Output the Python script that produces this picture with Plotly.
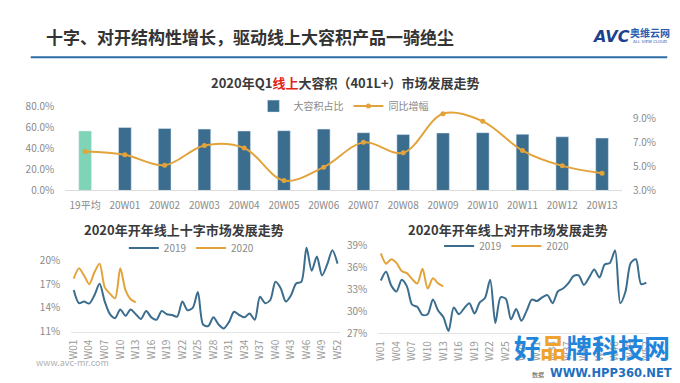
import plotly.graph_objects as go

# ---------------- data ----------------
top_categories = ["19平均", "20W01", "20W02", "20W03", "20W04", "20W05", "20W06",
                  "20W07", "20W08", "20W09", "20W10", "20W11", "20W12", "20W13"]
share_large = [56.4, 59.7, 58.8, 58.2, 56.4, 56.7, 58.2, 54.8, 53.0, 54.5, 54.8, 53.3, 50.9, 49.7]
yoy_growth = [6.23, 5.96, 5.09, 6.73, 6.52, 3.82, 4.93, 6.99, 6.12, 9.37, 8.74, 6.31, 5.04, 4.43]

left_ticks = [0, 20, 40, 60, 80]
right_ticks = [3, 5, 7, 9]

weeks = ["W%02d" % i for i in range(1, 53)]
week_ticks = weeks[::3]

cross_2019 = [16.25, 14.6, 14.8, 14.55, 15.6, 17.05, 14.8, 13.2, 12.7, 13.8,
              13.0, 13.8, 13.2, 12.6, 13.6, 12.8, 12.5, 13.6, 13.2, 13.1,
              12.9, 14.8, 13.7, 14.0, 16.0, 11.9, 11.7, 12.8, 11.9, 11.4,
              12.2, 13.5, 13.1, 12.8, 13.3, 12.5, 15.4, 14.6, 15.0, 17.3,
              16.5, 14.8, 15.6, 17.1, 17.3, 21.6, 18.7, 20.5, 18.1, 19.5,
              21.3, 19.6]
cross_2020 = [17.7, 19.0, 18.1, 17.0, 18.5, 19.6, 16.6, 15.8, 15.2, 19.0, 16.25, 15.1, 14.7]
cross_ticks = [11, 14, 17, 20]

fd_2019 = [34.2, 35.4, 33.5, 32.7, 34.3, 33.4, 30.9, 30.6, 29.5, 29.6,
           31.6, 30.1, 29.2, 27.3, 30.5, 29.6, 30.4, 31.1, 29.7, 31.2,
           31.8, 34.3, 28.4, 31.9, 31.7, 28.9, 30.3, 28.7, 30.05, 31.6,
           31.4, 31.9, 32.2, 31.1, 32.7, 33.1, 33.8, 34.8, 34.9, 33.6,
           34.6, 35.7, 34.6, 36.4, 36.6, 38.3, 31.1, 32.7, 36.6, 37.1,
           33.7, 33.9]
fd_2020 = [37.9, 36.5, 37.1, 36.6, 35.5, 35.2, 34.4, 33.8, 35.8, 33.1, 34.5, 33.8, 33.4]
fd_ticks = [27, 30, 33, 36, 39]

# ---------------- style ----------------
W, H = 680, 383
FONT = "Noto Sans CJK SC, Microsoft YaHei, sans-serif"
BLUE = "#3b6d8e"
MINT = "#7fd3b7"
ORANGE = "#e3a33b"
GRAY = "#8a8a8a"


def px(x):
    return x / W


def py(y):
    return 1 - y / H


fig = go.Figure()

# top chart
fig.add_trace(go.Bar(x=top_categories[:1], y=share_large[:1], marker_color=MINT,
                     width=0.32, showlegend=False, xaxis="x", yaxis="y",
                     hoverinfo="skip"))
fig.add_trace(go.Bar(x=top_categories[1:], y=share_large[1:], marker_color=BLUE,
                     width=0.32, name="大容积占比", xaxis="x", yaxis="y", legend="legend"))
fig.add_trace(go.Scatter(x=top_categories, y=yoy_growth, mode="lines+markers",
                         line=dict(color=ORANGE, width=2, shape="spline", smoothing=1.0),
                         marker=dict(size=5, color=ORANGE), name="同比增幅",
                         xaxis="x", yaxis="y2", legend="legend"))

# bottom left
fig.add_trace(go.Scatter(x=weeks, y=cross_2019, mode="lines", name="2019",
                         line=dict(color=BLUE, width=2, shape="spline", smoothing=0.8),
                         xaxis="x3", yaxis="y3", legend="legend2"))
fig.add_trace(go.Scatter(x=weeks[:len(cross_2020)], y=cross_2020, mode="lines", name="2020",
                         line=dict(color=ORANGE, width=2, shape="spline", smoothing=0.8),
                         xaxis="x3", yaxis="y3", legend="legend2"))

# bottom right
fig.add_trace(go.Scatter(x=weeks, y=fd_2019, mode="lines", name="2019",
                         line=dict(color=BLUE, width=2, shape="spline", smoothing=0.8),
                         xaxis="x4", yaxis="y4", legend="legend3"))
fig.add_trace(go.Scatter(x=weeks[:len(fd_2020)], y=fd_2020, mode="lines", name="2020",
                         line=dict(color=ORANGE, width=2, shape="spline", smoothing=0.8),
                         xaxis="x4", yaxis="y4", legend="legend3"))

tickfont = dict(family=FONT, size=10, color=GRAY)
xtickfont = dict(family=FONT, size=10, color="#9a9a9a")

fig.update_layout(
    width=W, height=H,
    margin=dict(l=0, r=0, t=0, b=0),
    paper_bgcolor="white", plot_bgcolor="rgba(0,0,0,0)",
    barmode="overlay",
    font=dict(family=FONT, color=GRAY, size=10),
    xaxis=dict(domain=[px(52), px(617)], anchor="y", type="category",
               range=[-0.5, 13.5], showgrid=False, showline=True, linecolor="#dcdcdc",
               ticks="outside", ticklen=6, tickcolor="rgba(0,0,0,0)", tickfont=tickfont),
    yaxis=dict(domain=[py(181), py(93)], anchor="x", range=[0, 80],
               tickvals=left_ticks, ticktext=["%.1f%%" % v for v in left_ticks],
               showgrid=False, zeroline=False, showline=False,
               ticks="outside", ticklen=8, tickcolor="rgba(0,0,0,0)", tickfont=tickfont),
    yaxis2=dict(overlaying="y", side="right", anchor="x", range=[3, 10],
                tickvals=right_ticks, ticktext=["%.1f%%" % v for v in right_ticks],
                showgrid=False, zeroline=False, showline=False,
                ticks="outside", ticklen=8, tickcolor="rgba(0,0,0,0)", tickfont=tickfont),
    xaxis3=dict(domain=[px(58), px(331)], anchor="y3", type="category",
                categoryorder="array", categoryarray=weeks,
                range=[-0.5, 51.5], tickvals=week_ticks, tickangle=-90,
                showgrid=False, showline=True, linecolor="#e4e4e4",
                ticks="outside", ticklen=3, tickcolor="rgba(0,0,0,0)", tickfont=xtickfont),
    yaxis3=dict(domain=[py(328.3), py(237.6)], anchor="x3", range=[11, 22],
                tickvals=cross_ticks, ticktext=["%d%%" % v for v in cross_ticks],
                showgrid=False, zeroline=False, showline=False,
                ticks="outside", ticklen=8, tickcolor="rgba(0,0,0,0)", tickfont=tickfont),
    xaxis4=dict(domain=[px(369.7), px(644.4)], anchor="y4", type="category",
                categoryorder="array", categoryarray=weeks,
                range=[-0.5, 51.5], tickvals=week_ticks, tickangle=-90,
                showgrid=False, showline=True, linecolor="#e4e4e4",
                ticks="outside", ticklen=3, tickcolor="rgba(0,0,0,0)", tickfont=xtickfont),
    yaxis4=dict(domain=[py(330), py(238.3)], anchor="x4", range=[27, 39],
                tickvals=fd_ticks, ticktext=["%d%%" % v for v in fd_ticks],
                showgrid=False, zeroline=False, showline=False,
                ticks="outside", ticklen=8, tickcolor="rgba(0,0,0,0)", tickfont=tickfont),
    legend=dict(orientation="h", x=px(243), y=py(93), xanchor="left", yanchor="middle",
                bgcolor="rgba(0,0,0,0)", font=dict(family=FONT, size=10, color=GRAY),
                itemwidth=30, tracegroupgap=0),
    legend2=dict(orientation="h", x=px(180), y=py(241), xanchor="center", yanchor="middle",
                 bgcolor="rgba(0,0,0,0)", font=dict(family=FONT, size=10, color=GRAY),
                 itemwidth=30),
    legend3=dict(orientation="h", x=px(500), y=py(239), xanchor="center", yanchor="middle",
                 bgcolor="rgba(0,0,0,0)", font=dict(family=FONT, size=10, color=GRAY),
                 itemwidth=30),
)

# ---------------- texts ----------------
ann = []
ann.append(dict(text="<b>十字、对开结构性增长，驱动线上大容积产品一骑绝尘</b>",
                x=px(30), y=py(20), xanchor="left", yanchor="middle",
                font=dict(family=FONT, size=17, color="#333333")))
ann.append(dict(text="<b>2020年Q1<span style='color:#e0241b'>线上</span>大容积（401L+）市场发展走势</b>",
                x=px(336), y=py(68), xanchor="center", yanchor="middle",
                font=dict(family=FONT, size=13, color="#3a3a3a")))
ann.append(dict(text="<b>2020年开年线上十字市场发展走势</b>",
                x=px(173), y=py(222), xanchor="center", yanchor="middle",
                font=dict(family=FONT, size=13, color="#3a3a3a")))
ann.append(dict(text="<b>2020年开年线上对开市场发展走势</b>",
                x=px(501), y=py(222), xanchor="center", yanchor="middle",
                font=dict(family=FONT, size=13, color="#3a3a3a")))
# logo
ann.append(dict(text="<b><i>AVC</i></b>", x=px(606), y=py(20), xanchor="center", yanchor="middle",
                font=dict(family="DejaVu Sans, sans-serif", size=16, color="#1d3f8c")))
ann.append(dict(text="<b>奥维云网</b>", x=px(645), y=py(16), xanchor="center", yanchor="middle",
                font=dict(family=FONT, size=10, color="#2a5db0")))
ann.append(dict(text="ALL VIEW CLOUD", x=px(645), y=py(26), xanchor="center", yanchor="middle",
                font=dict(family="DejaVu Sans, sans-serif", size=4, color="#2a5db0")))
# footer
ann.append(dict(text="www.avc-mr.com", x=px(20), y=py(361), xanchor="left", yanchor="middle",
                font=dict(family=FONT, size=9, color="#b0b0b0")))
# watermark overlay
ann.append(dict(text="<b>好<span style='color:#f0a22e'>品</span>牌科技网</b>",
                x=px(668), y=py(344), xanchor="right", yanchor="middle",
                font=dict(family=FONT, size=26, color="#1f86dc")))
ann.append(dict(text="<b>WWW.HPP360.NET</b>", x=px(670), y=py(371), xanchor="right", yanchor="middle",
                font=dict(family="DejaVu Sans, sans-serif", size=11.5, color="#1f6fc0")))
ann.append(dict(text="数据", x=px(540), y=py(373), xanchor="right", yanchor="middle",
                font=dict(family=FONT, size=6, color="#555555")))

for a in ann:
    a.update(xref="paper", yref="paper", showarrow=False)
fig.update_layout(annotations=ann)

fig.add_shape(type="line", xref="paper", yref="paper",
              x0=px(17), x1=px(663), y0=py(42), y1=py(42),
              line=dict(color="#2e6da4", width=2))

fig.write_html("out.html")
